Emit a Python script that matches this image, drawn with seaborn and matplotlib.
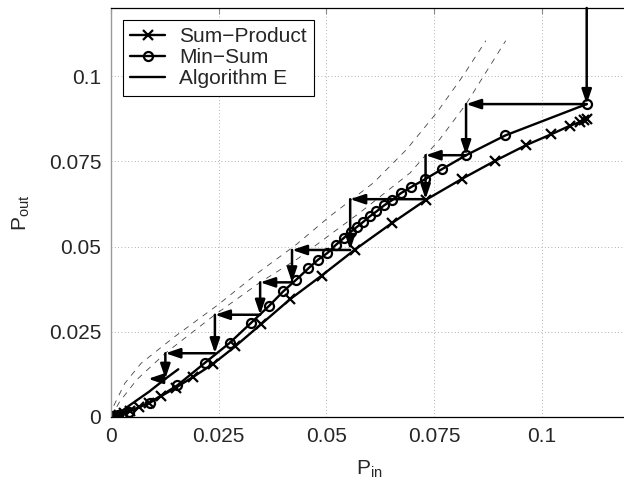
import matplotlib
matplotlib.use("Agg")
import matplotlib.pyplot as plt
import seaborn as sns

# Sum-Product trajectory (crosses)
sp_x = [0.1104, 0.1097, 0.1088, 0.1066, 0.1021, 0.0964, 0.0892, 0.0815, 0.0732,
        0.0651, 0.0566, 0.0489, 0.0416, 0.0348, 0.0288, 0.0236, 0.0190, 0.0150,
        0.0116, 0.0088, 0.0064, 0.0045, 0.0030, 0.0019, 0.0011, 0.0006, 0.0003, 0.0]
sp_y = [0.0873, 0.0870, 0.0865, 0.0855, 0.0829, 0.0798, 0.0752, 0.0699, 0.0638,
        0.0568, 0.0491, 0.0415, 0.0346, 0.0272, 0.0207, 0.0155, 0.0117, 0.0086,
        0.0061, 0.0042, 0.0028, 0.0018, 0.0011, 0.0006, 0.0003, 0.0001, 0.0, 0.0]

# Min-Sum trajectory (circles)
ms_x = [0.1104, 0.0915, 0.0824, 0.0768, 0.0728, 0.0697, 0.0672, 0.0652, 0.0634,
        0.0616, 0.0601, 0.0585, 0.0570, 0.0556, 0.0540, 0.0521, 0.0502, 0.0481,
        0.0458, 0.0430, 0.0400, 0.0366, 0.0324, 0.0275, 0.0217, 0.0154, 0.0090,
        0.0042, 0.0017, 0.0007, 0.0003, 0.0001, 0.0]
ms_y = [0.0918, 0.0826, 0.0768, 0.0727, 0.0697, 0.0675, 0.0656, 0.0636, 0.0621,
        0.0603, 0.0589, 0.0572, 0.0557, 0.0543, 0.0525, 0.0504, 0.0481, 0.0462,
        0.0436, 0.0403, 0.0369, 0.0325, 0.0275, 0.0217, 0.0158, 0.0093, 0.0042,
        0.0016, 0.0006, 0.0002, 0.0001, 0.0, 0.0]

# Algorithm E
ae_x = [0.0, 0.0020, 0.0045, 0.0088, 0.0126, 0.0156]
ae_y = [0.0, 0.0013, 0.0036, 0.0074, 0.0112, 0.0140]

# dashed reference curves
dash_a_x = [0.0, 0.0005, 0.0032, 0.0070, 0.0148, 0.0248, 0.0341, 0.0430, 0.0508,
            0.0609, 0.0686, 0.0756, 0.0817, 0.0870]
dash_a_y = [0.0, 0.0030, 0.0099, 0.0158, 0.0236, 0.0329, 0.0423, 0.0506, 0.0589,
            0.0687, 0.0785, 0.0893, 0.1001, 0.1104]
dash_b_x = [0.0, 0.0020, 0.0060, 0.0126, 0.0241, 0.0346, 0.0434, 0.0500, 0.0578,
            0.0694, 0.0730, 0.0763, 0.0824, 0.0916]
dash_b_y = [0.0, 0.0045, 0.0110, 0.0187, 0.0300, 0.0395, 0.0465, 0.0527, 0.0600,
            0.0716, 0.0768, 0.0815, 0.0918, 0.1104]

# gear-shift staircase corners
stair_x = [0.1104, 0.1104, 0.0824, 0.0824, 0.0730, 0.0730, 0.0555, 0.0555, 0.0420,
           0.0420, 0.0346, 0.0346, 0.0241, 0.0241, 0.0126, 0.0126, 0.0086]
stair_y = [0.1200, 0.0918, 0.0918, 0.0768, 0.0768, 0.0639, 0.0639, 0.0490, 0.0490,
           0.0395, 0.0395, 0.0300, 0.0300, 0.0187, 0.0187, 0.0112, 0.0112]

ticks = [0, 0.025, 0.05, 0.075, 0.1]
tick_labels = ["0", "0.025", "0.05", "0.075", "0.1"]

sns.set_style("white")
plt.rcParams["font.family"] = ["Liberation Sans", "DejaVu Sans"]

fig = plt.figure(figsize=(6.24, 4.86), dpi=100)
ax = fig.add_axes([0.178, 0.142, 0.8285, 0.8416])

sns.lineplot(x=dash_a_x, y=dash_a_y, sort=False, estimator=None, ax=ax,
             color="#444444", lw=0.6, linestyle=(0, (7, 7)))
sns.lineplot(x=dash_b_x, y=dash_b_y, sort=False, estimator=None, ax=ax,
             color="#444444", lw=0.6, linestyle=(0, (7, 7)))

sns.lineplot(x=sp_x, y=sp_y, sort=False, estimator=None, ax=ax, color="black",
             lw=1.7, marker="x", markersize=7.5, markeredgewidth=1.6,
             markeredgecolor="black", label="Sum\u2212Product")
sns.lineplot(x=ms_x, y=ms_y, sort=False, estimator=None, ax=ax, color="black",
             lw=1.7, marker="o", markersize=6.5, markeredgewidth=1.6,
             markeredgecolor="black", markerfacecolor="none", label="Min\u2212Sum")
sns.lineplot(x=ae_x, y=ae_y, sort=False, estimator=None, ax=ax, color="black",
             lw=1.7, label="Algorithm E")

for i in range(len(stair_x) - 1):
    ax.annotate("", xy=(stair_x[i + 1], stair_y[i + 1]), xytext=(stair_x[i], stair_y[i]),
                arrowprops=dict(arrowstyle="-|>,head_length=0.62,head_width=0.21",
                                mutation_scale=14, color="black", lw=1.8,
                                shrinkA=0, shrinkB=0))

ax.set_xlim(0, 0.12)
ax.set_ylim(0, 0.12)
ax.set_xticks(ticks)
ax.set_xticklabels(tick_labels)
ax.set_yticks(ticks)
ax.set_yticklabels(tick_labels)
ax.tick_params(direction="in", length=4, color="#888888", labelsize=15, pad=7,
               top=True)
ax.grid(True, color="#999999", lw=0.6, linestyle=(0, (1, 3)))

for side in ["top", "right", "bottom"]:
    ax.spines[side].set_color("black")
    ax.spines[side].set_linewidth(0.9)
ax.spines["left"].set_color("#999999")
ax.spines["left"].set_linewidth(1.0)

ax.set_xlabel(r"$\mathregular{P_{in}}$", fontsize=15, labelpad=9)
ax.set_ylabel(r"$\mathregular{P_{out}}$", fontsize=15, labelpad=12)

leg = ax.legend(loc="upper left", bbox_to_anchor=(0.0226, 0.9707), borderaxespad=0,
                fontsize=15, frameon=True, fancybox=False, edgecolor="black",
                framealpha=1, handlelength=1.7, handletextpad=0.65,
                borderpad=0.35, labelspacing=0.1)
leg.get_frame().set_linewidth(0.8)

fig.savefig("out.png", dpi=100)
